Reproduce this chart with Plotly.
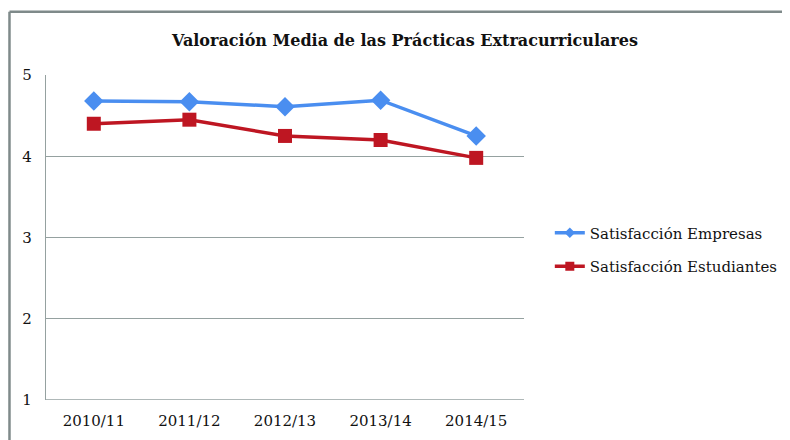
import plotly.graph_objects as go

categories = ["2010/11", "2011/12", "2012/13", "2013/14", "2014/15"]
empresas = [4.68, 4.67, 4.61, 4.69, 4.25]
estudiantes = [4.40, 4.45, 4.25, 4.20, 3.98]
names = ["Satisfacción Empresas", "Satisfacción Estudiantes"]

font_family = "DejaVu Serif, Liberation Serif, serif"
blue = "#4a8ef0"
red = "#be1622"

fig = go.Figure()
fig.add_trace(go.Scatter(
    x=categories, y=empresas, name=names[0], showlegend=False,
    mode="lines+markers",
    line=dict(color=blue, width=3.5),
    marker=dict(symbol="diamond", size=15, color=blue),
))
fig.add_trace(go.Scatter(
    x=categories, y=estudiantes, name=names[1], showlegend=False,
    mode="lines+markers",
    line=dict(color=red, width=3.5),
    marker=dict(symbol="square", size=14, color=red),
))
# legend entries (small markers as in the reference legend)
fig.add_trace(go.Scatter(
    x=[None], y=[None], name=names[0], legendgroup="a",
    mode="lines+markers", line=dict(color=blue, width=3.5),
    marker=dict(symbol="diamond", size=8, color=blue),
))
fig.add_trace(go.Scatter(
    x=[None], y=[None], name=names[1], legendgroup="b",
    mode="lines+markers", line=dict(color=red, width=3.5),
    marker=dict(symbol="square", size=9, color=red),
))

grid = "#95a1a0"
frame = "#7f8a8a"

fig.update_layout(
    width=790, height=440,
    margin=dict(l=38, r=274, t=67, b=48),
    paper_bgcolor="white", plot_bgcolor="white",
    font=dict(family=font_family, color="#111111", size=15),
    title=dict(text="<b>Valoración Media de las Prácticas Extracurriculares</b>",
               x=0.5025, xanchor="center", y=0.927, yanchor="middle",
               font=dict(size=16, family=font_family, color="#111111")),
    showlegend=True,
    legend=dict(x=1.054, y=0.463, xanchor="left", yanchor="middle",
                font=dict(size=15, family=font_family),
                tracegroupgap=11, bgcolor="rgba(0,0,0,0)"),
    xaxis=dict(type="category", range=[-0.5, 4.5], showgrid=False,
               showline=False, zeroline=False, ticks="",
               tickfont=dict(size=15), ticklabelstandoff=10),
    yaxis=dict(range=[1, 5], dtick=1, showgrid=True, gridcolor=grid,
               gridwidth=1.3, showline=True, linecolor=grid, linewidth=1.3,
               zeroline=False, ticks="", tickfont=dict(size=15),
               ticklabelstandoff=10),
    shapes=[
        dict(type="line", xref="paper", yref="paper", x0=-0.0764, x1=-0.0764,
             y0=-0.2, y1=1.195, line=dict(color=frame, width=2.5)),
        dict(type="line", xref="paper", yref="paper", x0=-0.0764, x1=1.7,
             y0=1.195, y1=1.195, line=dict(color=frame, width=2.5)),
        dict(type="line", xref="paper", yref="y", x0=0, x1=1,
             y0=1, y1=1, line=dict(color=grid, width=1.3)),
    ],
)

fig.write_html("out.html")
